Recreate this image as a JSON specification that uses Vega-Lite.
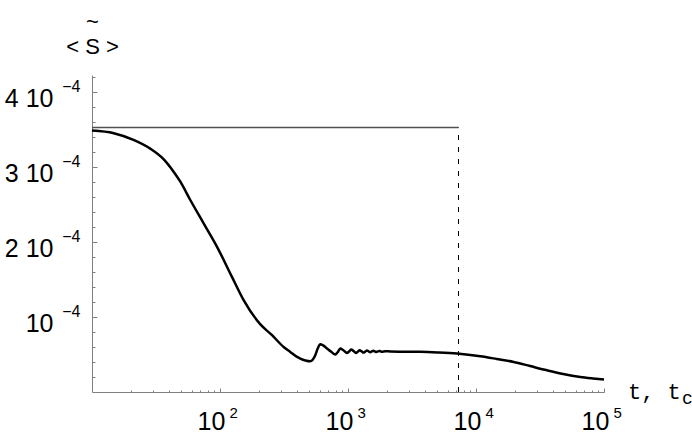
{
  "$schema": "https://vega.github.io/schema/vega-lite/v6.json",
  "width": 512,
  "height": 317,
  "autosize": "none",
  "padding": {"left": 92, "top": 75, "right": 88, "bottom": 47},
  "background": "white",
  "config": {"view": {"stroke": null}},
  "datasets": {
    "curve": [
      {"t": 10, "s": 0.000348},
      {"t": 14.8, "s": 0.0003445},
      {"t": 21.1, "s": 0.0003356},
      {"t": 28.5, "s": 0.000324},
      {"t": 36.2, "s": 0.00031},
      {"t": 43.4, "s": 0.0002933},
      {"t": 49.0, "s": 0.00028},
      {"t": 58.6, "s": 0.0002556},
      {"t": 74.5, "s": 0.0002245},
      {"t": 94.8, "s": 0.0001933},
      {"t": 124, "s": 0.0001533},
      {"t": 153, "s": 0.0001223},
      {"t": 206, "s": 0.0000903},
      {"t": 255, "s": 0.0000756},
      {"t": 314, "s": 0.00006},
      {"t": 354, "s": 0.0000533},
      {"t": 400, "s": 0.0000467},
      {"t": 424, "s": 0.0000445},
      {"t": 465, "s": 0.000042},
      {"t": 507, "s": 0.0000409},
      {"t": 530, "s": 0.000043},
      {"t": 555, "s": 0.0000489},
      {"t": 580, "s": 0.000058},
      {"t": 608, "s": 0.0000636},
      {"t": 640, "s": 0.000062},
      {"t": 686, "s": 0.0000579},
      {"t": 740, "s": 0.0000535},
      {"t": 796, "s": 0.0000499},
      {"t": 830, "s": 0.000053},
      {"t": 871, "s": 0.0000579},
      {"t": 920, "s": 0.0000555},
      {"t": 982, "s": 0.000052},
      {"t": 1020, "s": 0.000054},
      {"t": 1062, "s": 0.0000565},
      {"t": 1105, "s": 0.0000545},
      {"t": 1155, "s": 0.000052},
      {"t": 1195, "s": 0.0000538},
      {"t": 1233, "s": 0.0000556},
      {"t": 1280, "s": 0.000054},
      {"t": 1325, "s": 0.0000525},
      {"t": 1365, "s": 0.0000538},
      {"t": 1407, "s": 0.0000552},
      {"t": 1450, "s": 0.000054},
      {"t": 1493, "s": 0.0000529},
      {"t": 1535, "s": 0.000054},
      {"t": 1577, "s": 0.0000549},
      {"t": 1620, "s": 0.000054},
      {"t": 1665, "s": 0.0000532},
      {"t": 1710, "s": 0.000054},
      {"t": 1757, "s": 0.0000545},
      {"t": 1805, "s": 0.000054},
      {"t": 1853, "s": 0.0000535},
      {"t": 1900, "s": 0.000054},
      {"t": 1955, "s": 0.0000543},
      {"t": 2140, "s": 0.0000539},
      {"t": 2700, "s": 0.0000537},
      {"t": 3670, "s": 0.0000535},
      {"t": 5000, "s": 0.0000527},
      {"t": 7110, "s": 0.0000512},
      {"t": 10800, "s": 0.0000476},
      {"t": 14500, "s": 0.000044},
      {"t": 19700, "s": 0.00004},
      {"t": 26500, "s": 0.0000345},
      {"t": 35900, "s": 0.0000289},
      {"t": 48000, "s": 0.000024},
      {"t": 65300, "s": 0.00002},
      {"t": 82000, "s": 0.000018},
      {"t": 100000, "s": 0.0000165}
    ],
    "hline": [{"t0": 10, "t1": 7300, "s": 0.000352}],
    "vline": [{"t": 7300, "s0": 0, "s1": 0.000352}],
    "xlab": [{"t": 100000, "s": 0, "main": "t, t", "sub": "c"}]
  },
  "layer": [
    {
      "data": {"name": "curve"},
      "mark": {"type": "line", "color": "black", "strokeWidth": 2.5, "interpolate": "monotone"},
      "encoding": {
        "x": {
          "field": "t", "type": "quantitative",
          "scale": {"type": "log", "domain": [10, 100000], "nice": false},
          "axis": {
            "orient": "bottom",
            "values": [100, 1000, 10000, 100000],
            "labelExpr": "'10'",
            "title": null, "grid": false,
            "domainColor": "#808080", "domainWidth": 1,
            "tickColor": "#808080", "tickSize": -4, "tickWidth": 1,
            "labelFont": "Liberation Sans", "labelFontSize": 25, "labelColor": "black",
            "labelBaseline": "alphabetic", "labelAlign": "center",
            "labelPadding": 41, "labelOffset": -9, "labelFlush": false, "labelOverlap": false
          }
        },
        "y": {
          "field": "s", "type": "quantitative",
          "scale": {"domain": [0, 0.000422], "nice": false, "zero": false},
          "axis": {
            "orient": "left",
            "values": [0.0001, 0.0002, 0.0003, 0.0004],
            "labelExpr": "round(datum.value*10000) == 1 ? '10' : round(datum.value*10000) + ' 10'",
            "title": ["~", "< S >"],
            "titleAngle": 0, "titleX": 0, "titleY": -47, "titleAlign": "center",
            "titleBaseline": "alphabetic", "titleFont": "Liberation Sans", "titleFontSize": 22,
            "titleFontWeight": "normal", "titleColor": "black", "titleLineHeight": 25,
            "grid": false,
            "domainColor": "#808080", "domainWidth": 1,
            "tickColor": "#808080", "tickSize": -5, "tickWidth": 1,
            "labelFont": "Liberation Sans", "labelFontSize": 25, "labelColor": "black",
            "labelBaseline": "alphabetic", "labelAlign": "right",
            "labelPadding": 44, "labelOffset": 15, "labelFlush": false, "labelOverlap": false
          }
        }
      }
    },
    {
      "data": {"name": "hline"},
      "mark": {"type": "rule", "color": "#505050", "strokeWidth": 1.5},
      "encoding": {
        "x": {
          "field": "t0", "type": "quantitative",
          "axis": {
            "orient": "bottom",
            "values": [20, 30, 40, 50, 60, 70, 80, 90, 200, 300, 400, 500, 600, 700, 800, 900, 2000, 3000, 4000, 5000, 6000, 7000, 8000, 9000, 20000, 30000, 40000, 50000, 60000, 70000, 80000, 90000],
            "labels": false, "domain": false, "title": null, "grid": false,
            "tickColor": "#808080", "tickSize": -2, "tickWidth": 1
          }
        },
        "x2": {"field": "t1"},
        "y": {
          "field": "s", "type": "quantitative",
          "axis": {
            "orient": "left",
            "values": [0.00002, 0.00004, 0.00006, 0.00008, 0.00012, 0.00014, 0.00016, 0.00018, 0.00022, 0.00024, 0.00026, 0.00028, 0.00032, 0.00034, 0.00036, 0.00038, 0.00042],
            "labels": false, "domain": false, "title": null, "grid": false,
            "tickColor": "#808080", "tickSize": -3, "tickWidth": 1
          }
        }
      }
    },
    {
      "data": {"name": "vline"},
      "mark": {"type": "rule", "color": "black", "strokeWidth": 1, "strokeDash": [5, 7]},
      "encoding": {
        "x": {
          "field": "t", "type": "quantitative",
          "axis": {
            "orient": "bottom",
            "values": [100, 1000, 10000, 100000],
            "labelExpr": "round(log(datum.value)/LN10)",
            "ticks": false, "domain": false, "title": null, "grid": false,
            "labelFont": "Liberation Sans", "labelFontSize": 15, "labelColor": "black",
            "labelBaseline": "alphabetic", "labelAlign": "left",
            "labelPadding": 25, "labelOffset": 9, "labelFlush": false, "labelOverlap": false
          }
        },
        "y": {
          "field": "s0", "type": "quantitative",
          "axis": {
            "orient": "left",
            "values": [0.0001, 0.0002, 0.0003, 0.0004],
            "labelExpr": "'−4'",
            "ticks": false, "domain": false, "title": null, "grid": false,
            "labelFont": "Liberation Sans", "labelFontSize": 16, "labelColor": "black",
            "labelBaseline": "alphabetic", "labelAlign": "right",
            "labelPadding": 12, "labelOffset": 0, "labelFlush": false, "labelOverlap": false
          }
        },
        "y2": {"field": "s1"}
      }
    },
    {
      "data": {"name": "xlab"},
      "mark": {"type": "text", "align": "left", "baseline": "alphabetic", "font": "Liberation Mono", "fontSize": 22, "color": "black", "dx": 24, "dy": 7},
      "encoding": {
        "x": {"field": "t", "type": "quantitative", "axis": null},
        "y": {"field": "s", "type": "quantitative", "axis": null},
        "text": {"field": "main"}
      }
    },
    {
      "data": {"name": "xlab"},
      "mark": {"type": "text", "align": "left", "baseline": "alphabetic", "font": "Liberation Mono", "fontSize": 18, "color": "black", "dx": 78, "dy": 12},
      "encoding": {
        "x": {"field": "t", "type": "quantitative", "axis": null},
        "y": {"field": "s", "type": "quantitative", "axis": null},
        "text": {"field": "sub"}
      }
    }
  ],
  "resolve": {"axis": {"x": "independent", "y": "independent"}}
}
